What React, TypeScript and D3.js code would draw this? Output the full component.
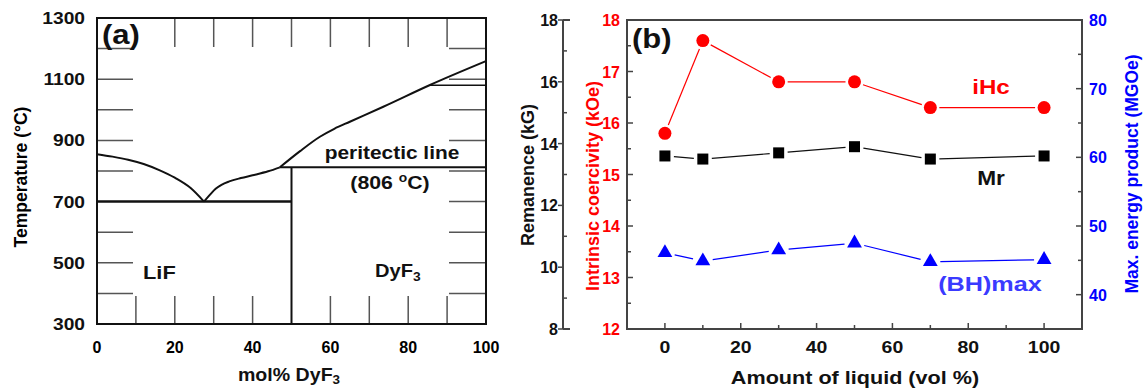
import React from 'react';
import * as d3 from 'd3';

// ---- panel (a): LiF-DyF3 phase diagram ----
const molTicks = [0, 20, 40, 60, 80, 100];
const molMinor = [10, 20, 30, 40, 50, 60, 70, 80, 90];
const tempTicks = [300, 500, 700, 900, 1100, 1300];
const tempMinor = [400, 500, 600, 700, 800, 900, 1000, 1100, 1200];

// liquidus curves [mol% DyF3, temperature]
const liquidusLiF = [[0, 855], [4, 847], [8, 837], [12, 823], [16, 803], [20, 778], [24, 745], [27.5, 700]];
const liquidusMid = [[27.5, 700], [29, 722], [30.5, 742], [32, 755], [34, 766], [37, 777], [40, 786], [44, 799], [47, 812]];
const liquidusDyF3 = [[47, 812], [52.2, 865], [57.3, 912], [61, 938], [65, 961], [73.6, 1010], [85.6, 1081], [100, 1159]];
const eutecticT = 700;
const peritecticT = 812;
const peritecticMol = [47, 100];
const compoundMol = 50;
const transitionT = 1080;
const transitionMol = [85.6, 100];

// ---- panel (b): magnetic properties vs liquid amount ----
const liquidAmount = [0, 10, 30, 50, 70, 100];
const iHc = [15.8, 17.6, 16.8, 16.8, 16.3, 16.3];
const remanence = [13.6, 13.5, 13.7, 13.9, 13.5, 13.6];
const bhMax = [46.1, 44.9, 46.5, 47.5, 44.8, 45.1];
const amountTicks = [0, 20, 40, 60, 80, 100];
const amountMinor = [0, 10, 20, 30, 40, 50, 60, 70, 80, 90, 100];
const remTicks = [8, 10, 12, 14, 16, 18];
const remMinor = [9, 11, 13, 15, 17];
const hcTicks = [12, 13, 14, 15, 16, 17, 18];
const hcMinor = [12.5, 13.5, 14.5, 15.5, 16.5, 17.5];
const bhTicks = [40, 50, 60, 70, 80];
const bhMinor = [40, 45, 50, 55, 60, 65, 70, 75];

const FONT = 'Arial, "Liberation Sans", sans-serif';
const RED = '#ff0000';
const BLUE = '#0000ff';
const AX = '#444';

// line segments that stop short of the markers
function gappedSegments(pts: number[][], gap: number) {
  const segs: number[][] = [];
  for (let i = 0; i < pts.length - 1; i++) {
    const [x1, y1] = pts[i];
    const [x2, y2] = pts[i + 1];
    const len = Math.hypot(x2 - x1, y2 - y1);
    const ux = (x2 - x1) / len;
    const uy = (y2 - y1) / len;
    segs.push([x1 + ux * gap, y1 + uy * gap, x2 - ux * gap, y2 - uy * gap]);
  }
  return segs;
}

// the source figure is a bit stretched sideways, so text gets a horizontal scale
function SText(props: any) {
  const { x, y, sx = 1.18, anchor = 'start', size, fill = '#111', children } = props;
  return (
    <text transform={`translate(${x},${y}) scale(${sx},1)`} textAnchor={anchor} fontSize={size} fill={fill}>
      {children}
    </text>
  );
}

function PanelA() {
  const x = d3.scaleLinear().domain([0, 100]).range([97, 486]);
  const y = d3.scaleLinear().domain([300, 1300]).range([324, 18]);
  const line = d3.line<number[]>()
    .x(d => x(d[0]))
    .y(d => y(d[1]))
    .curve(d3.curveMonotoneX);

  return (
    <g fontFamily={FONT} fontWeight="bold">
      {/* ticks */}
      {tempMinor.map(t => (
        <g key={'yt' + t}>
          {t !== eutecticT && <line x1={x(0)} x2={x(0) + 36} y1={y(t)} y2={y(t)} stroke="#555" strokeWidth={1.5} />}
          <line x1={x(100)} x2={x(100) - 37} y1={y(t)} y2={y(t)} stroke="#555" strokeWidth={1.5} />
        </g>
      ))}
      {molMinor.map(m => (
        <g key={'xt' + m}>
          {m !== compoundMol && <line x1={x(m)} x2={x(m)} y1={y(300)} y2={y(300) - 28} stroke="#555" strokeWidth={1.5} />}
          {m !== 10 && <line x1={x(m)} x2={x(m)} y1={y(1300)} y2={y(1300) + 29} stroke="#555" strokeWidth={1.5} />}
        </g>
      ))}

      {/* phase boundaries */}
      <path d={line(liquidusLiF) || ''} fill="none" stroke="#111" strokeWidth={2} />
      <path d={line(liquidusMid) || ''} fill="none" stroke="#111" strokeWidth={2} />
      <path d={line(liquidusDyF3) || ''} fill="none" stroke="#111" strokeWidth={2} />
      <line x1={x(0)} x2={x(compoundMol)} y1={y(eutecticT)} y2={y(eutecticT)} stroke="#111" strokeWidth={2.5} />
      <line x1={x(peritecticMol[0])} x2={x(peritecticMol[1])} y1={y(peritecticT)} y2={y(peritecticT)} stroke="#111" strokeWidth={2} />
      <line x1={x(compoundMol)} x2={x(compoundMol)} y1={y(peritecticT)} y2={y(300)} stroke="#111" strokeWidth={2} />
      <line x1={x(transitionMol[0])} x2={x(transitionMol[1])} y1={y(transitionT)} y2={y(transitionT)} stroke="#111" strokeWidth={1.5} />

      {/* frame */}
      <rect x={x(0)} y={y(1300)} width={x(100) - x(0)} height={y(300) - y(1300)} fill="none" stroke="#111" strokeWidth={2} />

      {/* tick labels */}
      {molTicks.map(m => (
        <text key={'xl' + m} x={x(m)} y={353} textAnchor="middle" fontSize={16}>{m}</text>
      ))}
      {tempTicks.map(t => (
        <SText key={'yl' + t} x={85} y={y(t) + 6} anchor="end" size={16} sx={1.2}>{t}</SText>
      ))}

      {/* labels */}
      <SText x={102} y={44} size={27} sx={1.15}>(a)</SText>
      <SText x={392} y={159} anchor="middle" size={19} sx={1.1}>peritectic line</SText>
      <SText x={390} y={189} anchor="middle" size={18.5} sx={1.15}>
        (806 <tspan dy={-7} fontSize={12}>o</tspan><tspan dy={7}>C)</tspan>
      </SText>
      <SText x={143} y={279} size={18.5} sx={1.18}>LiF</SText>
      <SText x={375} y={277} size={17.5} sx={1.15}>DyF<tspan dy={4} fontSize={12}>3</tspan></SText>
      <SText x={289} y={381} anchor="middle" size={17.5} sx={1.12}>
        mol% DyF<tspan dy={3} fontSize={12}>3</tspan>
      </SText>
      <text transform="translate(27,177) rotate(-90)" textAnchor="middle" fontSize={17.5}>Temperature (°C)</text>
    </g>
  );
}

function PanelB() {
  const x = d3.scaleLinear().domain([-10, 110]).range([627, 1082]);
  const yRem = d3.scaleLinear().domain([8, 18]).range([329, 20]);
  const yHc = d3.scaleLinear().domain([12, 18]).range([329, 20]);
  const yBH = d3.scaleLinear().domain([35, 80]).range([329, 20]);
  const left = x(-10);
  const right = x(110);
  const top = yHc(18);
  const bottom = yHc(12);
  const remAxisX = 563;

  const hcPts = liquidAmount.map((a, i) => [x(a), yHc(iHc[i])]);
  const remPts = liquidAmount.map((a, i) => [x(a), yRem(remanence[i])]);
  const bhPts = liquidAmount.map((a, i) => [x(a), yBH(bhMax[i])]);
  const tri = d3.symbol().type(d3.symbolTriangle).size(95);

  return (
    <g fontFamily={FONT} fontWeight="bold">
      {/* remanence axis (separate, left) */}
      <line x1={remAxisX} x2={remAxisX} y1={yRem(18)} y2={yRem(8)} stroke={AX} strokeWidth={2} />
      <line x1={remAxisX} x2={remAxisX + 7} y1={yRem(18)} y2={yRem(18)} stroke={AX} strokeWidth={2} />
      <line x1={remAxisX} x2={remAxisX + 7} y1={yRem(8)} y2={yRem(8)} stroke={AX} strokeWidth={2} />
      {remTicks.map(v => (
        <g key={'rt' + v}>
          <line x1={remAxisX - 5} x2={remAxisX} y1={yRem(v)} y2={yRem(v)} stroke={AX} strokeWidth={1.5} />
          <text x={558} y={yRem(v) + 6} textAnchor="end" fontSize={16} fill="#111">{v}</text>
        </g>
      ))}
      {remMinor.map(v => (
        <line key={'rm' + v} x1={remAxisX} x2={remAxisX + 4} y1={yRem(v)} y2={yRem(v)} stroke={AX} strokeWidth={1.5} />
      ))}

      {/* coercivity axis ticks (frame left) */}
      {hcTicks.map(v => (
        <g key={'ht' + v}>
          <line x1={left} x2={left + 6} y1={yHc(v)} y2={yHc(v)} stroke={AX} strokeWidth={1.5} />
          <text x={620} y={yHc(v) + 6} textAnchor="end" fontSize={16} fill={RED}>{v}</text>
        </g>
      ))}
      {hcMinor.map(v => (
        <line key={'hm' + v} x1={left} x2={left + 4} y1={yHc(v)} y2={yHc(v)} stroke={AX} strokeWidth={1.5} />
      ))}

      {/* energy product axis ticks (frame right) */}
      {bhMinor.map(v => (
        <line key={'bm' + v} x1={right} x2={right - (v % 10 === 0 ? 6 : 4)} y1={yBH(v)} y2={yBH(v)} stroke={AX} strokeWidth={1.5} />
      ))}
      {bhTicks.map(v => (
        <text key={'bt' + v} x={1089} y={yBH(v) + 6} fontSize={16} fill={BLUE}>{v}</text>
      ))}

      {/* x axis */}
      {amountMinor.map(v => (
        <line key={'am' + v} x1={x(v)} x2={x(v)} y1={bottom} y2={bottom - (v % 20 === 0 ? 6 : 4)} stroke={AX} strokeWidth={1.5} />
      ))}
      {amountTicks.map(v => (
        <SText key={'at' + v} x={x(v)} y={353} anchor="middle" size={16.5} sx={1.18}>{v}</SText>
      ))}

      {/* frame */}
      <rect x={left} y={top} width={right - left} height={bottom - top} fill="none" stroke={AX} strokeWidth={2} />

      {/* series lines */}
      {gappedSegments(hcPts, 9).map((s, i) => (
        <line key={'hl' + i} x1={s[0]} y1={s[1]} x2={s[2]} y2={s[3]} stroke={RED} strokeWidth={1.2} />
      ))}
      {gappedSegments(remPts, 9).map((s, i) => (
        <line key={'rl' + i} x1={s[0]} y1={s[1]} x2={s[2]} y2={s[3]} stroke="#111" strokeWidth={1.2} />
      ))}
      {gappedSegments(bhPts, 10).map((s, i) => (
        <line key={'bl' + i} x1={s[0]} y1={s[1]} x2={s[2]} y2={s[3]} stroke={BLUE} strokeWidth={1.2} />
      ))}

      {/* markers */}
      {hcPts.map((p, i) => <circle key={'hc' + i} cx={p[0]} cy={p[1]} r={6.5} fill={RED} />)}
      {remPts.map((p, i) => <rect key={'rs' + i} x={p[0] - 5.5} y={p[1] - 5.5} width={11} height={11} fill="#000" />)}
      {bhPts.map((p, i) => <path key={'bt' + i} d={tri() || ''} transform={`translate(${p[0]},${p[1]})`} fill={BLUE} />)}

      {/* labels */}
      <SText x={632} y={48} size={27} sx={1.15}>(b)</SText>
      <SText x={991} y={94} anchor="middle" size={21} fill={RED} sx={1.15}>iHc</SText>
      <SText x={991} y={185} anchor="middle" size={21} sx={1.08}>Mr</SText>
      <SText x={990} y={291} anchor="middle" size={21} fill="#3a3aff" sx={1.2}>(BH)max</SText>
      <SText x={855} y={384} anchor="middle" size={18} sx={1.2}>Amount of liquid (vol %)</SText>
      <text transform="translate(534,175) rotate(-90)" textAnchor="middle" fontSize={18} fill="#111">Remanence (kG)</text>
      <text transform="translate(599,186) rotate(-90)" textAnchor="middle" fontSize={18} fill={RED}>Intrinsic coercivity (kOe)</text>
      <text transform="translate(1138,174) rotate(-90)" textAnchor="middle" fontSize={17.5} fill={BLUE}>Max. energy product (MGOe)</text>
    </g>
  );
}

export default function App() {
  return (
    <svg
      width={1143}
      height={389}
      style={{ position: 'absolute', left: 0, top: 0, background: '#fff' }}
    >
      <rect width={1143} height={389} fill="#fff" />
      <PanelA />
      <PanelB />
    </svg>
  );
}
